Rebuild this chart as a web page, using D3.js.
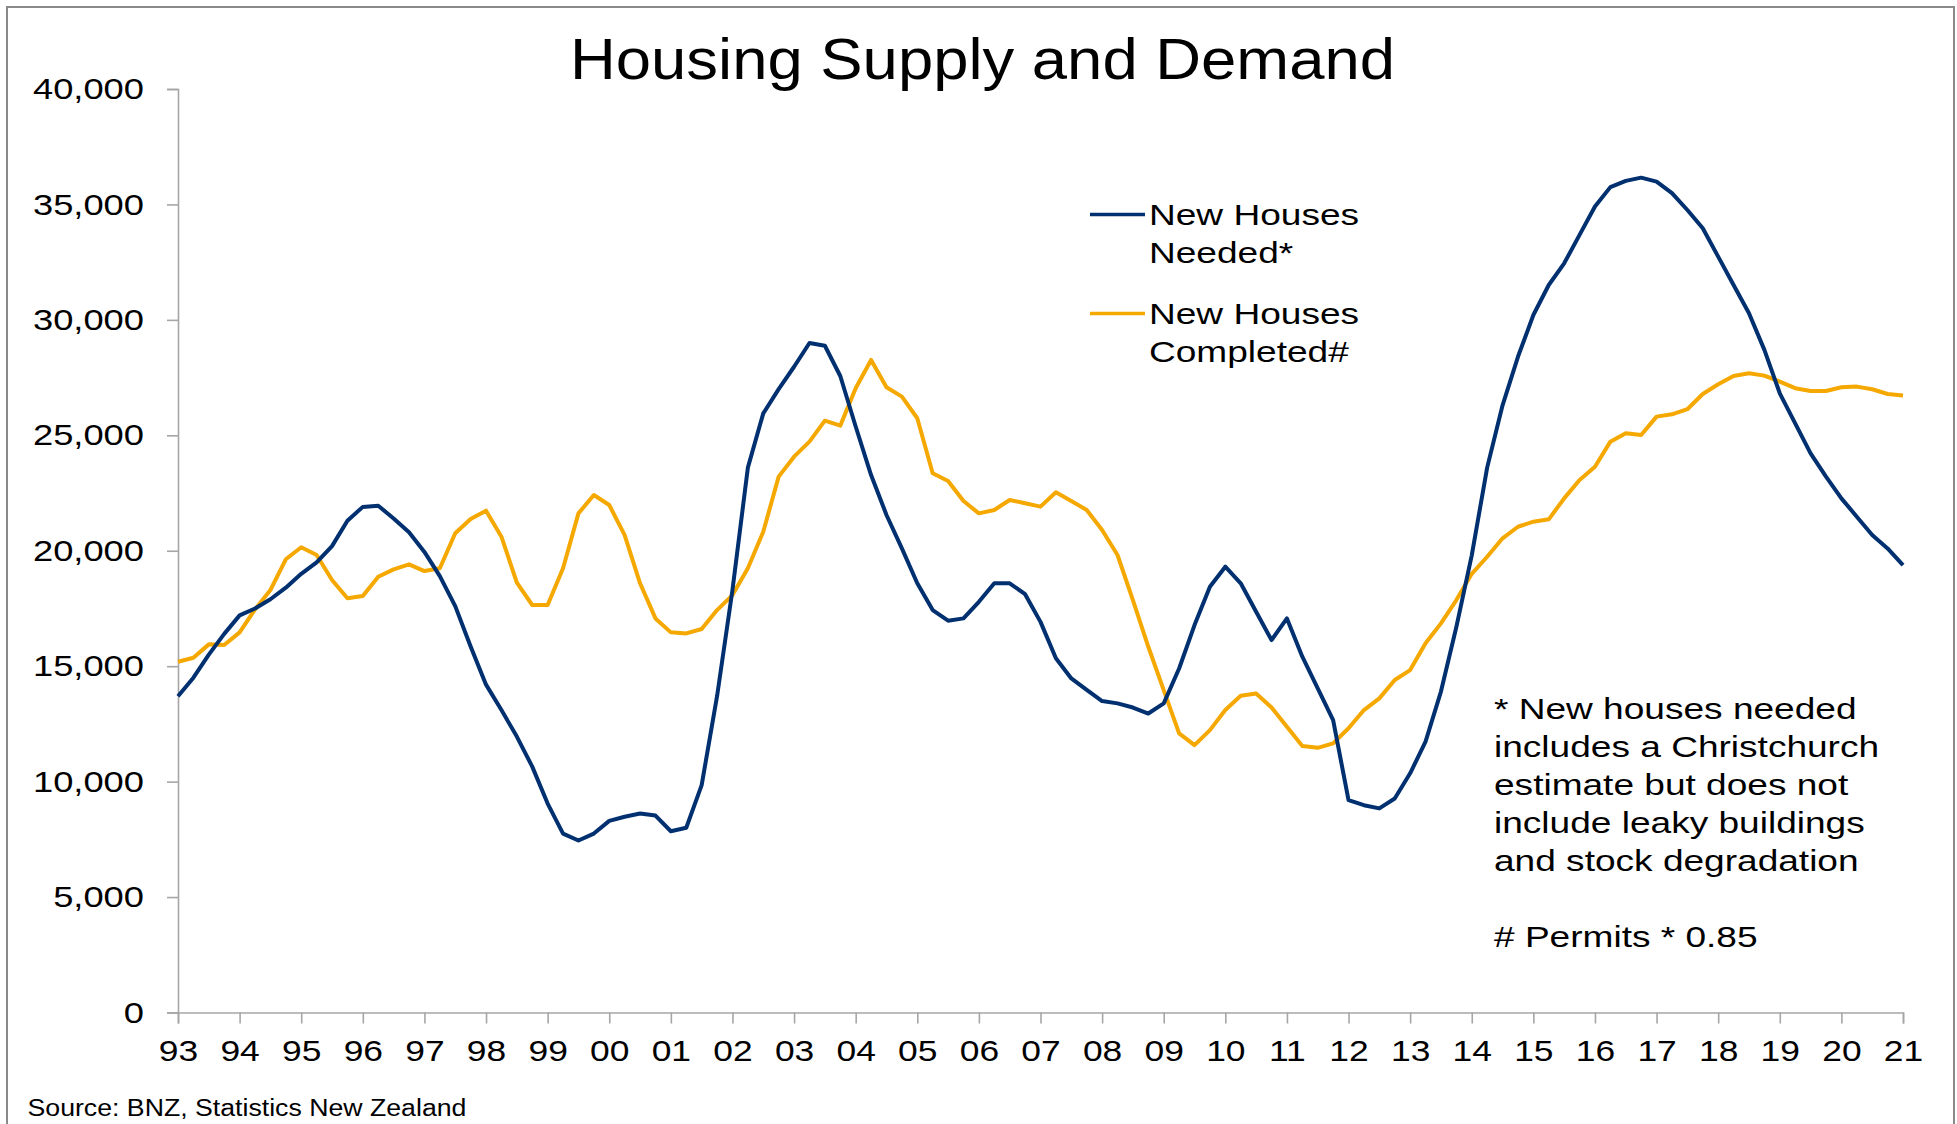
<!DOCTYPE html>
<html>
<head>
<meta charset="utf-8">
<script src="https://cdn.jsdelivr.net/npm/d3@7"></script>
<style>
  body { margin: 0; background: #fff; }
  text { font-family: "Liberation Sans", Arial, sans-serif; fill: #000; }
</style>
</head>
<body>
<div id="chart"></div>
<script>
var width = 1957,
    height = 1124;

// quarterly values, 1993 Q1 .. 2021 Q1
var startYear = 1993;
var needed = [
  13700, 14500, 15500, 16400,   // 93
  17200, 17500, 17900, 18400,   // 94
  19000, 19500, 20200, 21300,   // 95
  21900, 21950, 21400, 20800,   // 96
  19950, 18900, 17600, 15850,   // 97
  14200, 13100, 11950, 10650,   // 98
  9050, 7750, 7450, 7750,       // 99
  8300, 8480, 8620, 8530,       // 00
  7850, 8000, 9850, 13700,      // 01
  18300, 23600, 25950, 27000,   // 02
  27970, 29000, 28880, 27570,   // 03
  25380, 23280, 21550, 20100,   // 04
  18590, 17430, 16970, 17070,   // 05
  17790, 18590, 18590, 18120,   // 06
  16920, 15340, 14470, 13970,   // 07
  13490, 13390, 13210, 12950,   // 08
  13390, 14900, 16780, 18440,   // 09
  19310, 18590, 17360, 16130,   // 10
  17070, 15410, 14040, 12660,   // 11
  9200, 8980, 8840, 9270,       // 12
  10360, 11730, 13900, 16700,   // 13
  19800, 23600, 26300, 28400,   // 14
  30210, 31510, 32450, 33680,   // 15
  34910, 35750, 36020, 36160,   // 16
  35990, 35490, 34760, 33970,   // 17
  32740, 31510, 30290, 28700,   // 18
  26820, 25520, 24220, 23210,   // 19
  22270, 21475, 20680, 20100,   // 20
  19380                         // 21
];
var completed = [
  15190, 15365, 15945, 15915,   // 93
  16465, 17460, 18300, 19630,   // 94
  20150, 19815, 18730, 17940,   // 95
  18040, 18875, 19195, 19410,   // 96
  19120, 19240, 20755, 21375,   // 97
  21735, 20610, 18615, 17650,   // 98
  17650, 19240, 21620, 22415,   // 99
  21980, 20680, 18590, 17070,   // 00
  16465, 16420, 16610, 17430,   // 01
  18080, 19240, 20825, 23210,   // 02
  24075, 24725, 25635, 25420,   // 03
  27040, 28265, 27080, 26675,   // 04
  25740, 23355, 23020, 22155,   // 05
  21620, 21765, 22200, 22055,   // 06
  21910, 22530, 22155, 21765,   // 07
  20900, 19815, 17865, 15840,   // 08
  13965, 12090, 11580, 12230,   // 09
  13100, 13720, 13820, 13215,   // 10
  12375, 11540, 11465, 11655,   // 11
  12310, 13100, 13605, 14400,   // 12
  14830, 15990, 16855, 17865,   // 13
  19000, 19740, 20540, 21040,   // 14
  21260, 21360, 22270, 23065,   // 15
  23640, 24725, 25090, 25015,   // 16
  25810, 25910, 26130, 26790,   // 17
  27210, 27570, 27690, 27585,   // 18
  27325, 27040, 26920, 26920,   // 19
  27080, 27110, 26995, 26790,   // 20
  26720                         // 21
];
var yearTicks = d3.range(1993, 2022);
var yTicks = [0, 5000, 10000, 15000, 20000, 25000, 30000, 35000, 40000];
var seriesNames = [["New Houses", "Needed*"], ["New Houses", "Completed#"]];
var colors = ["#00306f", "#f5a800"];
var noteLines = ["* New houses needed", "includes a Christchurch", "estimate but does not",
                 "include leaky buildings", "and stock degradation", "", "# Permits * 0.85"];

var svg = d3.select("#chart").append("svg")
    .attr("width", width)
    .attr("height", height);

// widen text the way the original picture is stretched
function stretch(sel, k) {
    sel.each(function () {
        var w = this.getComputedTextLength();
        d3.select(this).attr("textLength", w * k).attr("lengthAdjust", "spacingAndGlyphs");
    });
}

// outer frame
svg.append("rect")
    .attr("x", 7).attr("y", 7)
    .attr("width", 1947).attr("height", 1140)
    .attr("fill", "none")
    .attr("stroke", "#8a8a8a")
    .attr("stroke-width", 2);

var x = d3.scaleLinear().domain([1993, 2021]).range([178, 1903]);
var y = d3.scaleLinear().domain([0, 40000]).range([1012.5, 89]);

// axes
var yAxis = svg.append("g")
    .attr("transform", "translate(178,0)")
    .call(d3.axisLeft(y).tickValues(yTicks).tickSize(11).tickPadding(23)
        .tickFormat(d3.format(",")));
var xAxis = svg.append("g")
    .attr("transform", "translate(0,1012.5)")
    .call(d3.axisBottom(x).tickValues(yearTicks).tickSize(11).tickPadding(16)
        .tickFormat(function (d) { return String(d % 100).padStart(2, "0"); }));

[yAxis, xAxis].forEach(function (g) {
    g.select(".domain").attr("stroke", "#a6a6a6").attr("stroke-width", 1.6);
    g.selectAll(".tick line").attr("stroke", "#a6a6a6").attr("stroke-width", 1.6);
    g.selectAll("text")
        .attr("font-size", 30)
        .attr("font-family", "Liberation Sans, Arial, sans-serif")
        .attr("fill", "#000");
});
stretch(yAxis.selectAll("text"), 1.21);
stretch(xAxis.selectAll("text"), 1.18);

// lines
var line = d3.line()
    .x(function (d, i) { return x(startYear + i / 4); })
    .y(function (d) { return y(d); });

svg.selectAll(".series")
    .data([completed, needed])
    .enter().append("path")
    .attr("class", "series")
    .attr("d", line)
    .attr("fill", "none")
    .attr("stroke", function (d, i) { return i == 0 ? colors[1] : colors[0]; })
    .attr("stroke-width", 4)
    .attr("stroke-linejoin", "round");

// title
svg.append("text")
    .attr("x", 982.5)
    .attr("y", 79)
    .attr("font-size", 57)
    .attr("text-anchor", "middle")
    .attr("textLength", 825)
    .attr("lengthAdjust", "spacingAndGlyphs")
    .text("Housing Supply and Demand");

// legend
var legend = svg.selectAll(".legend")
    .data(seriesNames)
    .enter().append("g")
    .attr("class", "legend")
    .attr("transform", function (d, i) { return "translate(0," + (i * 99) + ")"; });
legend.append("line")
    .attr("x1", 1090).attr("x2", 1145)
    .attr("y1", 214.5).attr("y2", 214.5)
    .attr("stroke", function (d, i) { return colors[i]; })
    .attr("stroke-width", 3.5);
legend.each(function (d) {
    var g = d3.select(this);
    d.forEach(function (t, j) {
        g.append("text")
            .attr("x", 1149)
            .attr("y", 225 + j * 38.3)
            .attr("font-size", 30)
            .text(t);
    });
});
stretch(legend.selectAll("text"), 1.235);

// footnote
var notes = svg.append("g");
notes.selectAll("text")
    .data(noteLines)
    .enter().append("text")
    .attr("x", 1494)
    .attr("y", function (d, i) { return 719.3 + i * 38; })
    .attr("font-size", 30)
    .text(function (d) { return d; });
stretch(notes.selectAll("text").filter(function (d) { return d.length > 0; }), 1.235);

// source
var src = svg.append("text")
    .attr("x", 27.5)
    .attr("y", 1116)
    .attr("font-size", 23)
    .text("Source: BNZ, Statistics New Zealand");
stretch(src, 1.16);
</script>
</body>
</html>
